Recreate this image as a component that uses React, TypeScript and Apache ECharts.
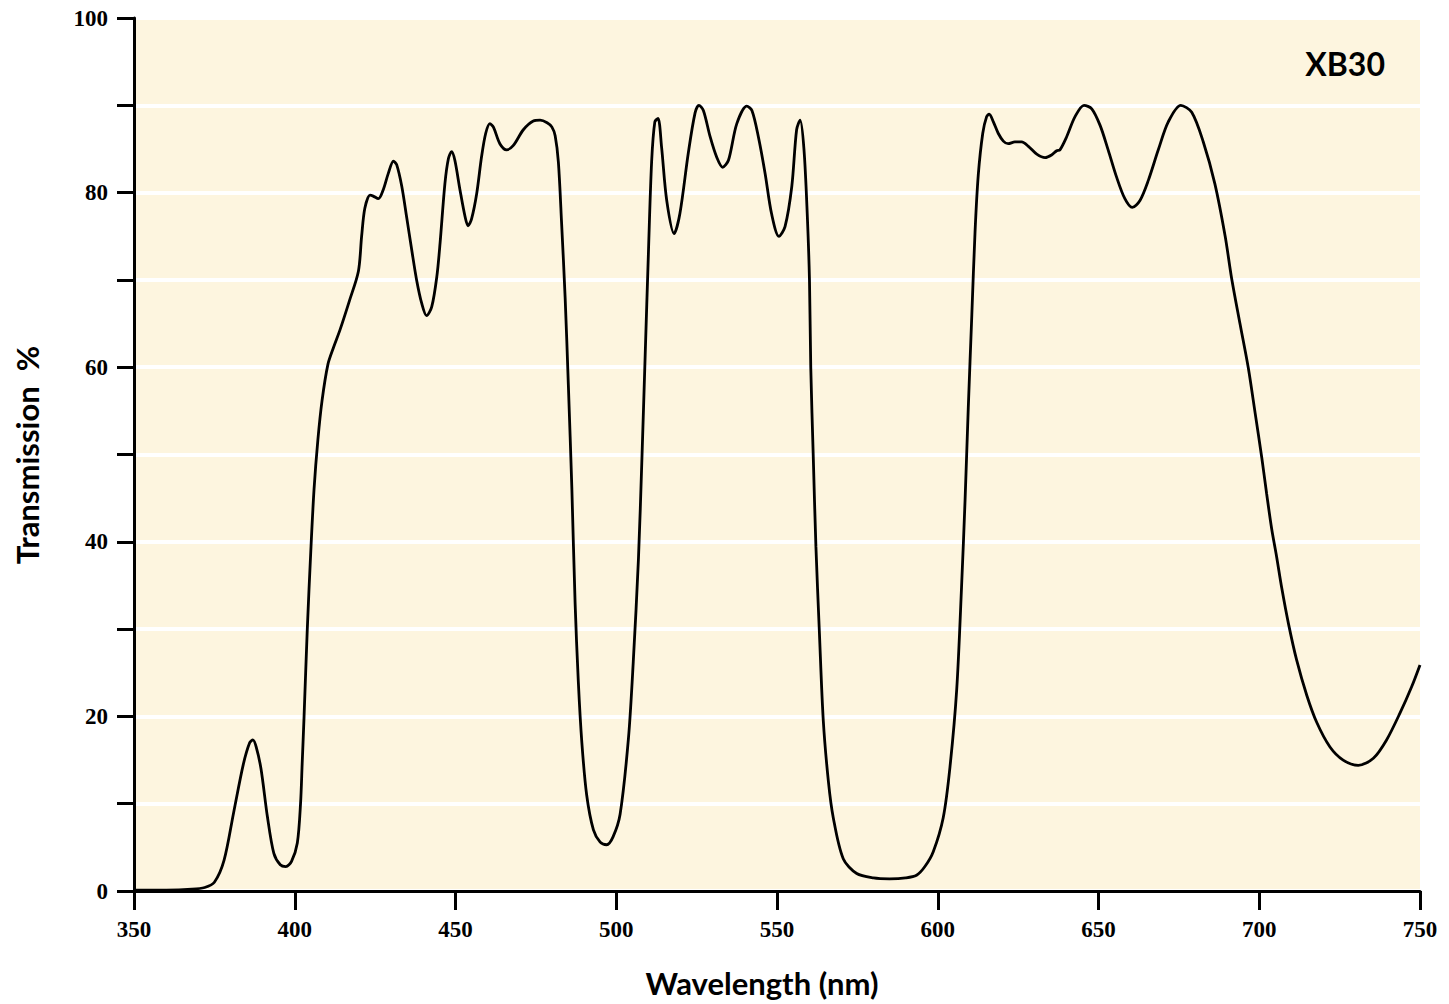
import React, { useEffect, useRef } from "react";
import * as echarts from "echarts";

const wavelengths = [
  350, 360, 368, 372, 375, 378, 381, 384, 386, 387, 388, 389.5, 391.5, 393.5, 395.5, 397.2, 399, 400.8, 401.8, 402.3,
  402.9, 403.9, 405, 406, 407.2, 408.5, 410.3, 412, 414.1, 417, 419.8, 420.8, 421.8, 423.4, 424.4, 426, 427.5, 429.1,
  430.7, 431.7, 433.3, 434.8, 436.4, 437.9, 439.5, 441, 442.6, 444.2, 445.2, 446.7, 447.8, 448.8, 449.8, 451.4, 453,
  453.9, 455, 456.6, 458.1, 459.4, 460.7, 461.8, 463.8, 465.9, 468, 471.1, 474.2, 476.3, 478.5, 480, 481, 482, 483,
  484.1, 485.1, 486.2, 487.2, 488.2, 489.3, 490.8, 492.9, 495, 497, 499, 501.2, 503.8, 505.3, 506.9, 508, 509, 510,
  511, 512, 513, 514.1, 515.7, 518, 519.8, 522.4, 524.5, 525.7, 527.1, 529.2, 531.2, 533.1, 534.9, 537.5, 540.6,
  542.2, 544.2, 546.3, 548.3, 550.6, 552.5, 554.6, 556.1, 557.2, 558.4, 559.4, 560.1, 560.5, 561.3, 562.1, 563.2,
  564.4, 566, 567.5, 570.6, 574.8, 580, 585, 590, 593.4, 596, 598.6, 601.7, 603.8, 605.9, 607.4, 608.5, 609.5, 610.6,
  611.6, 612.6, 614, 615.2, 616, 617.3, 618.8, 620.4, 621.9, 624, 626.1, 628.2, 630.8, 633.4, 635.4, 637, 638, 640.1,
  642.7, 645.5, 647.9, 650.5, 653, 655.6, 658.2, 660.5, 662.9, 665.5, 668.6, 671.7, 675.6, 679, 682.6, 686.2, 689.4,
  691.4, 694, 696.6, 698.7, 700.8, 702.3, 703.9, 705.4, 707, 709.1, 711.6, 714.8, 717.9, 722, 726.1, 730.8, 735.5,
  739.6, 743.8, 747.4, 750,
];

const transmission = [
  0.1, 0.1, 0.2, 0.4, 1.0, 3.5, 9.0, 14.5, 17.0, 17.3, 16.5, 14.0, 8.5, 4.3, 3.0, 2.8, 3.4, 5.5, 10, 14.5,
  20, 30, 39, 46, 51.7, 56.2, 60.3, 62.2, 64.3, 67.6, 71, 75, 78.2, 79.7, 79.6, 79.3, 80.3, 82.2,
  83.6, 83.2, 80.7, 77.2, 73.4, 70, 67.3, 65.9, 66.9, 70.4, 74.2, 81, 83.9, 84.7, 83.7, 80.3, 77.2,
  76.2, 77, 79.9, 84.1, 86.8, 87.9, 87.5, 85.6, 84.9, 85.4, 87.2, 88.2, 88.3, 88.0, 87.5, 86.5, 83.5, 76.5,
  68, 58, 46, 33, 24, 17, 11, 7, 5.6, 5.3, 6.2, 8.8, 17.5, 26.3, 38, 49.7, 61.4, 73,
  83.5, 88.1, 88.5, 85.2, 79.1, 75.3, 77.6, 84.5, 89.1, 90, 89.4, 86.4, 84.1, 82.9, 83.7, 87.9, 89.9,
  89.4, 86.4, 82.2, 77.6, 75, 76.1, 80.7, 87.2, 88.3, 84.9, 77.6, 70, 60, 49.5, 39.5, 29.5,
  19.5, 12.5, 8.4, 3.7, 2.0, 1.5, 1.4, 1.5, 1.8, 2.8, 4.5, 8.4, 14.2, 23.1, 34.8, 44.8, 55.4, 66,
  75.5, 82, 86.8, 88.7, 89, 88.1, 86.8, 85.9, 85.6, 85.8, 85.8, 85.3, 84.4, 84, 84.3, 84.8, 84.9, 86.4,
  88.7, 90, 89.6, 87.7, 84.9, 81.8, 79.3, 78.3, 79.1, 81.4, 84.9, 88.1, 90, 89.2, 85.8, 81, 75,
  70.2, 65, 59.9, 54.8, 49.6, 45.5, 41.4, 38.3, 34.7, 30.6, 26.5, 22.4, 19.3, 16.5, 15, 14.4, 15.2,
  17.3, 20.4, 23.4, 25.9,
];

const filterName = "XB30";
const xTitle = "Wavelength (nm)";
const yTitle = "Transmission  %";

export default function App() {
  const ref = useRef<HTMLDivElement>(null);
  useEffect(() => {
    if (!ref.current) return;
    const chart = echarts.init(ref.current, undefined, { renderer: "svg" });
    const data = wavelengths.map((w, i) => [w, transmission[i]]);
    const tickFont = { fontFamily: "Liberation Serif", fontWeight: "bold" as const, fontSize: 23, color: "#000" };
    chart.setOption({
      animation: false,
      backgroundColor: "#ffffff",
      grid: {
        left: 134,
        right: 29,
        top: 18,
        bottom: 113,
        show: true,
        backgroundColor: "#fdf5df",
        borderWidth: 0,
      },
      xAxis: {
        type: "value",
        min: 350,
        max: 750,
        interval: 50,
        axisLine: { show: true, lineStyle: { color: "#000", width: 3 } },
        axisTick: { show: true, length: 19, lineStyle: { color: "#000", width: 3 } },
        axisLabel: { ...tickFont, margin: 27 },
        splitLine: { show: false },
      },
      yAxis: {
        type: "value",
        min: 0,
        max: 100,
        interval: 10,
        axisLine: { show: true, onZero: false, lineStyle: { color: "#000", width: 3 } },
        axisTick: { show: true, length: 17, lineStyle: { color: "#000", width: 3 } },
        axisLabel: {
          ...tickFont,
          margin: 26,
          formatter: (v: number) => (v % 20 === 0 ? String(v) : ""),
        },
        splitLine: { show: true, lineStyle: { color: "#ffffff", width: 4 } },
      },
      graphic: [
        {
          type: "text",
          x: 1385,
          y: 63,
          style: {
            text: filterName,
            fill: "#000",
            font: "bold 32px Lato",
            textAlign: "right",
            textVerticalAlign: "middle",
          },
        },
        {
          type: "text",
          x: 762,
          y: 983,
          style: {
            text: xTitle,
            fill: "#000",
            font: "bold 31px Lato",
            textAlign: "center",
            textVerticalAlign: "middle",
          },
        },
        {
          type: "text",
          x: 27,
          y: 455,
          rotation: Math.PI / 2,
          style: {
            text: yTitle,
            fill: "#000",
            font: "bold 31px Lato",
            textAlign: "center",
            textVerticalAlign: "middle",
          },
        },
      ],
      series: [
        {
          type: "line",
          data,
          showSymbol: false,
          smooth: 0.3,
          lineStyle: { color: "#000", width: 2.8 },
          clip: true,
        },
      ],
    });
    return () => chart.dispose();
  }, []);
  return (
    <div
      ref={ref}
      style={{ position: "fixed", left: 0, top: 0, width: 1449, height: 1004 }}
    />
  );
}
